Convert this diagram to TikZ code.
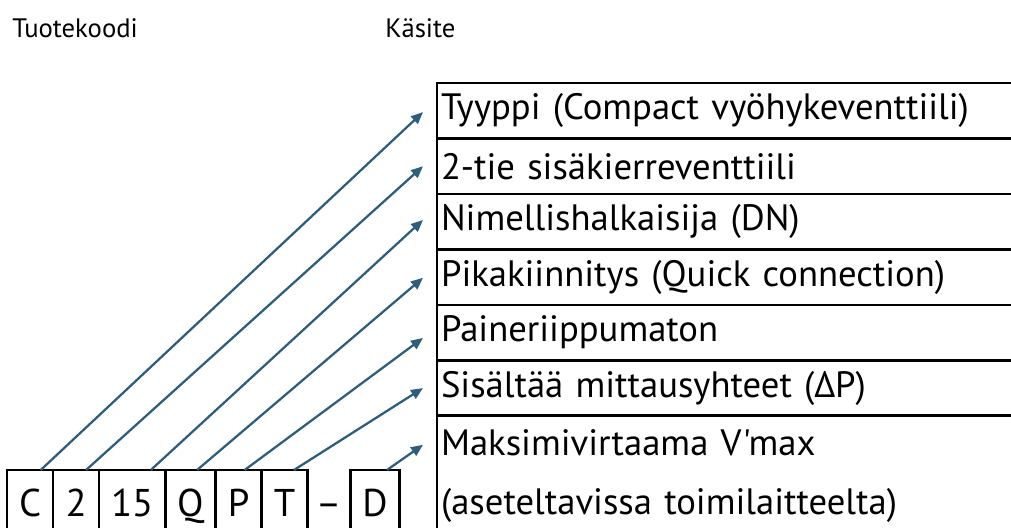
\documentclass[tikz,border=0pt]{standalone}
\usepackage{fontspec}
\setmainfont{PT Sans}[Ligatures={TeXOff,CommonOff}]
\usepackage{tikz}
\usetikzlibrary{arrows.meta}
\usetikzlibrary{calc}
\usetikzlibrary{positioning}
\definecolor{arrowblue}{RGB}{47,93,124}

\begin{document}
\begin{tikzpicture}[x=0.75pt, y=-0.75pt,
    koodi/.style={draw, line width=2pt, outer sep=0pt, inner xsep=9pt,
      minimum width=34.5pt, minimum height=48.75pt, text depth=0pt,
      font=\fontsize{29}{36}\selectfont},
    rivi/.style={draw, line width=2pt, outer sep=0pt, inner xsep=3pt,
      text width=440pt, align=left, minimum height=#1,
      font=\fontsize{27.5}{44}\selectfont},
    otsikko/.style={anchor=west, inner sep=0pt, font=\fontsize{20}{24}\selectfont},
    nuoli/.style={arrowblue, line width=1.7pt, -{Triangle[length=9pt, width=7.5pt]}}]
  \useasboundingbox (0, 0) rectangle (1011, 528);

  \node[otsikko] (tuote) at (12, 28) {Tuotekoodi};
  \node[otsikko] (kasite) at (385, 28) {Käsite};

  % tuotekoodi
  \node[koodi, anchor=north west] (kC) at (7, 470) {C};
  \node[koodi, right=0pt of kC] (k2) {2};
  \node[koodi, right=0pt of k2] (k15) {15};
  \node[koodi, right=0pt of k15] (kQ) {Q};
  \node[koodi, right=0pt of kQ] (kP) {P};
  \node[koodi, right=0pt of kP] (kT) {T};
  \node[inner sep=0pt, font=\fontsize{29}{36}\selectfont,
    right=6pt of kT.base east, anchor=base west] (viiva) {–};
  \node[koodi, right=32pt of kT] (kD) {D};

  % kasitteet
  \node[rivi=41.6pt, anchor=north west] (r1) at (437, 83) {Tyyppi (Compact vyöhykeventtiili)};
  \node[rivi=41.6pt, below=0pt of r1] (r2) {2-tie sisäkierreventtiili};
  \node[rivi=41.6pt, below=0pt of r2] (r3) {Nimellishalkaisija (DN)};
  \node[rivi=41.6pt, below=0pt of r3] (r4) {Pikakiinnitys (Quick connection)};
  \node[rivi=41.6pt, below=0pt of r4] (r5) {Paineriippumaton};
  \node[rivi=41.6pt, below=0pt of r5] (r6) {Sisältää mittausyhteet (ΔP)};
  \node[rivi=90pt, below=0pt of r6] (r7) {Maksimivirtaama V'max\\(aseteltavissa toimilaitteelta)};

  \foreach \kood/\rij/\dx/\dy in {kC/r1/8/-1, k2/r2/7.5/0, k15/r3/14/1.3,
      kQ/r4/5/-0.5, kP/r5/4.5/-4, kT/r6/7/0}
    \draw[nuoli] ([xshift=\dx pt]\kood.north) -- ([xshift=-10.5pt, yshift=\dy pt]\rij.west);
  \draw[nuoli] ([xshift=9pt]kD.north) -- ([xshift=-10.5pt, yshift=-21.75pt]r7.north west);
\end{tikzpicture}
\end{document}
